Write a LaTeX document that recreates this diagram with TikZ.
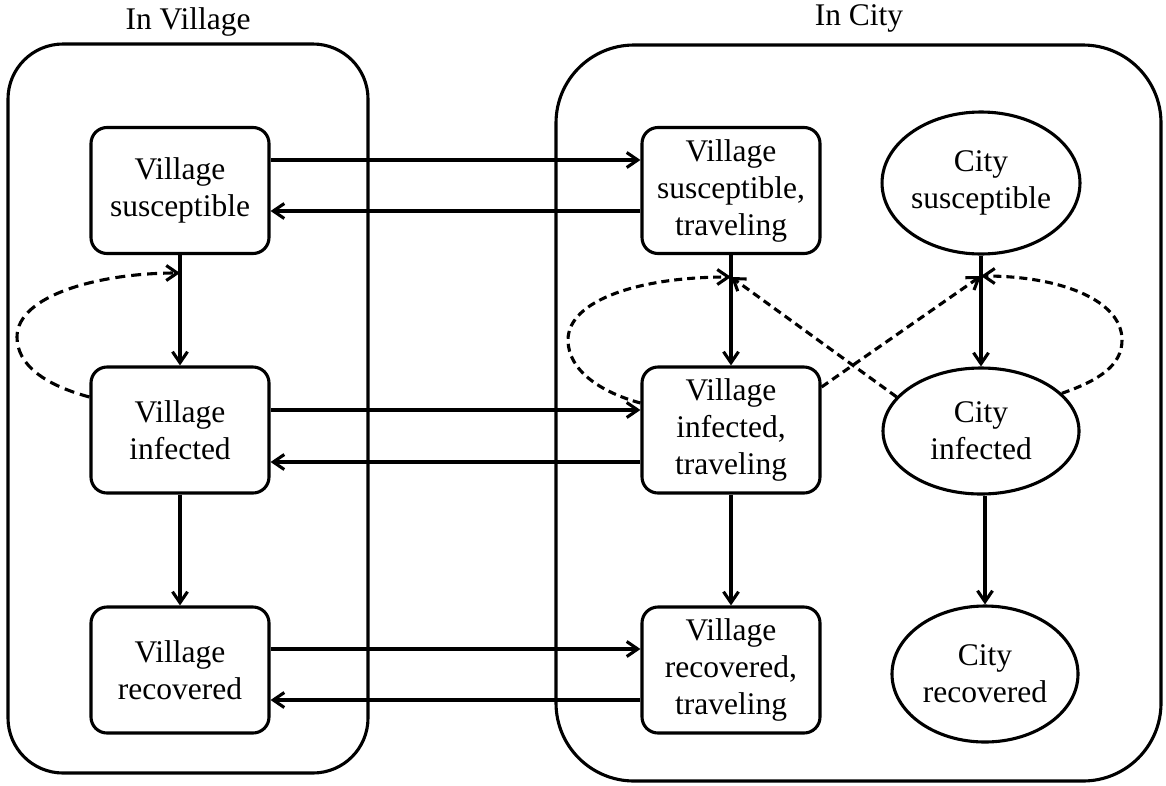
\documentclass[tikz,border=0pt]{standalone}
\usepackage{fontspec}
\setmainfont{Liberation Serif}
\usetikzlibrary{arrows.meta,shapes.geometric,calc}
\begin{document}
\begin{tikzpicture}[x=1pt,y=-1pt,
  lw/.style={line width=3.1pt},
  txt/.style={font=\fontsize{31.5}{37}\selectfont, align=center},
  box/.style={lw, draw, rounded corners=16pt, minimum width=178pt, minimum height=126pt, inner sep=0pt, txt},
  oval/.style={lw, draw, ellipse, inner sep=0pt, txt},
  region/.style={lw, draw, inner sep=0pt},
  arr/.style={lw, -{Straight Barb[length=11pt,width=15pt]}},
  dsh/.style={arr, dash pattern=on 8pt off 5pt},
  dshl/.style={arr, dash pattern=on 10pt off 6pt},
]
\useasboundingbox (0,0) rectangle (1166,785);
% regions
\node[region, rounded corners=55pt, minimum width=360pt, minimum height=729pt] (village) at (188,408.5) {};
\node[region, rounded corners=78pt, minimum width=605pt, minimum height=736pt] (city) at (858.5,413) {};
\node[txt] (tv) at (188,22) {In Village};
\node[txt] (tc) at (859,18) {In City};
% village nodes
\node[box] (vs) at (180,190.5) {Village\\susceptible};
\node[box] (vi) at (180,430) {Village\\infected};
\node[box] (vr) at (180,670) {Village\\recovered};
% traveling nodes
\node[box] (ts) at (731,190.5) {Village\\susceptible,\\traveling};
\node[box] (ti) at (731,430) {Village\\infected,\\traveling};
\node[box] (tr) at (731,670) {Village\\recovered,\\traveling};
% city nodes
\node[oval, minimum width=188pt, minimum height=142pt] (cs) at (981,183) {City\\susceptible};
\node[oval, minimum width=196pt, minimum height=126pt] (ci) at (981,431) {City\\infected};
\node[oval, minimum width=186pt, minimum height=136pt] (cr) at (985,674) {City\\recovered};
% horizontal arrows
\draw[arr] ($(vs.east)+(0,-30.5)$) -- ($(ts.west)+(0,-30.5)$);
\draw[arr] ($(ts.west)+(0,20.5)$) -- ($(vs.east)+(0,20.5)$);
\draw[arr] ($(vi.east)+(0,-20)$) -- ($(ti.west)+(0,-20)$);
\draw[arr] ($(ti.west)+(0,32)$) -- ($(vi.east)+(0,32)$);
\draw[arr] ($(vr.east)+(0,-21)$) -- ($(tr.west)+(0,-21)$);
\draw[arr] ($(tr.west)+(0,30)$) -- ($(vr.east)+(0,30)$);
% vertical arrows
\draw[arr] (vs.south) -- (vi.north);
\draw[arr] (vi.south) -- (vr.north);
\draw[arr] (ts.south) -- (ti.north);
\draw[arr] (ti.south) -- (tr.north);
\draw[arr] (cs.south) -- (ci.north);
\draw[arr] (ci.south -| cr.north) -- (cr.north);
% meeting points on the infection arrows
\coordinate (m1) at (180,273);
\coordinate (m2) at (731,277);
\coordinate (m3) at (981,276);
% dashed influence arrows
\draw[dshl] ($(vi.west)+(0,-33)$) .. controls (45,385) and (17,365) .. (17,337)
  .. controls (17,295) and (100,273) .. (m1);
\draw[dsh] ($(ti.west)+(0,-27)$) .. controls (600,392) and (568,370) .. (568,340)
  .. controls (568,300) and (640,277) .. (m2);
\draw[dsh] (ci.158) -- (m2);
\draw[dsh] ($(ti.east)+(0,-43)$) -- (m3);
\draw[dsh] (ci.25) .. controls (1100,380) and (1122,365) .. (1122,340)
  .. controls (1122,300) and (1060,276) .. (m3);
\end{tikzpicture}
\end{document}
